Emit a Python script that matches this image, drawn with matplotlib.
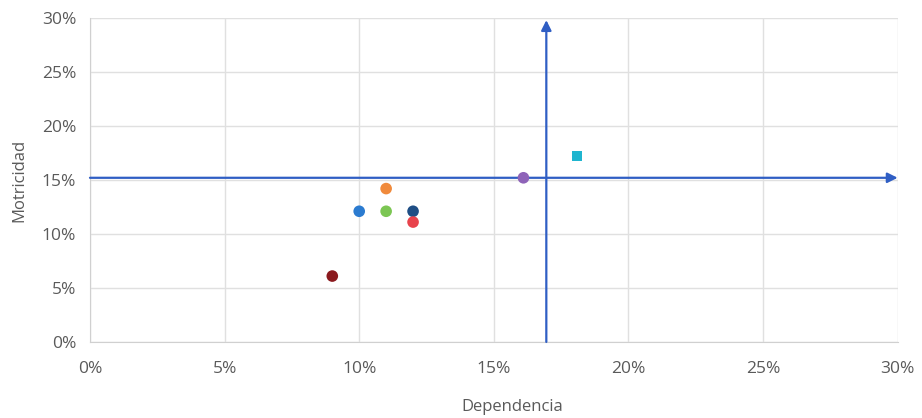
import matplotlib.pyplot as plt
from matplotlib.ticker import PercentFormatter

# dependencia (x) / motricidad (y), in %
dependencia = [10, 11, 11, 12, 12, 9, 16.1, 18.1]
motricidad = [12.1, 14.2, 12.1, 12.1, 11.1, 6.1, 15.2, 17.2]
colores = ["#2B7BD0", "#F08A3C", "#7CC653", "#1F4E85", "#E8434C",
           "#8B1A1E", "#8E63B8", "#1FB5CF"]
marcadores = ["o", "o", "o", "o", "o", "o", "o", "s"]

# quadrant lines
corte_x = 16.95
corte_y = 15.2

plt.rcParams["font.family"] = ["Open Sans", "DejaVu Sans"]

fig = plt.figure(figsize=(9.22, 4.18), dpi=100)
ax = fig.add_axes([0.0976, 0.182, 0.876, 0.775])

for x, y, c, m in zip(dependencia, motricidad, colores, marcadores):
    ax.scatter(x, y, s=70 if m == "o" else 55, color=c, marker=m, zorder=4,
               edgecolors="none")

eje = "#2F5EC4"
ax.annotate("", xy=(30, corte_y), xytext=(0, corte_y),
            arrowprops=dict(arrowstyle="-|>,head_length=0.6,head_width=0.3",
                            color=eje, lw=1.6, shrinkA=0, shrinkB=0), zorder=3)
ax.annotate("", xy=(corte_x, 29.8), xytext=(corte_x, 0),
            arrowprops=dict(arrowstyle="-|>,head_length=0.6,head_width=0.3",
                            color=eje, lw=1.6, shrinkA=0, shrinkB=0), zorder=3)

ax.set_xlim(0, 30)
ax.set_ylim(0, 30)
ax.set_xticks(range(0, 31, 5))
ax.set_yticks(range(0, 31, 5))
ax.xaxis.set_major_formatter(PercentFormatter(decimals=0))
ax.yaxis.set_major_formatter(PercentFormatter(decimals=0))
ax.grid(True, color="#E0E0E0", lw=1)
ax.set_axisbelow(True)
for s in ax.spines.values():
    s.set_visible(False)
ax.spines["left"].set_visible(True)
ax.spines["left"].set_color("#D0D0D0")
ax.spines["bottom"].set_visible(True)
ax.spines["bottom"].set_color("#D0D0D0")
ax.tick_params(length=0, labelsize=12.5, colors="#5A5A5A")
ax.tick_params(axis="x", pad=14)
ax.tick_params(axis="y", pad=10)
ax.set_xlabel("Dependencia", fontsize=12, color="#5A5A5A")
ax.set_ylabel("Motricidad", fontsize=12, color="#5A5A5A")
ax.xaxis.set_label_coords(0.523, -0.175)
ax.yaxis.set_label_coords(-0.078, 0.5)

fig.savefig("out.png", dpi=100)
